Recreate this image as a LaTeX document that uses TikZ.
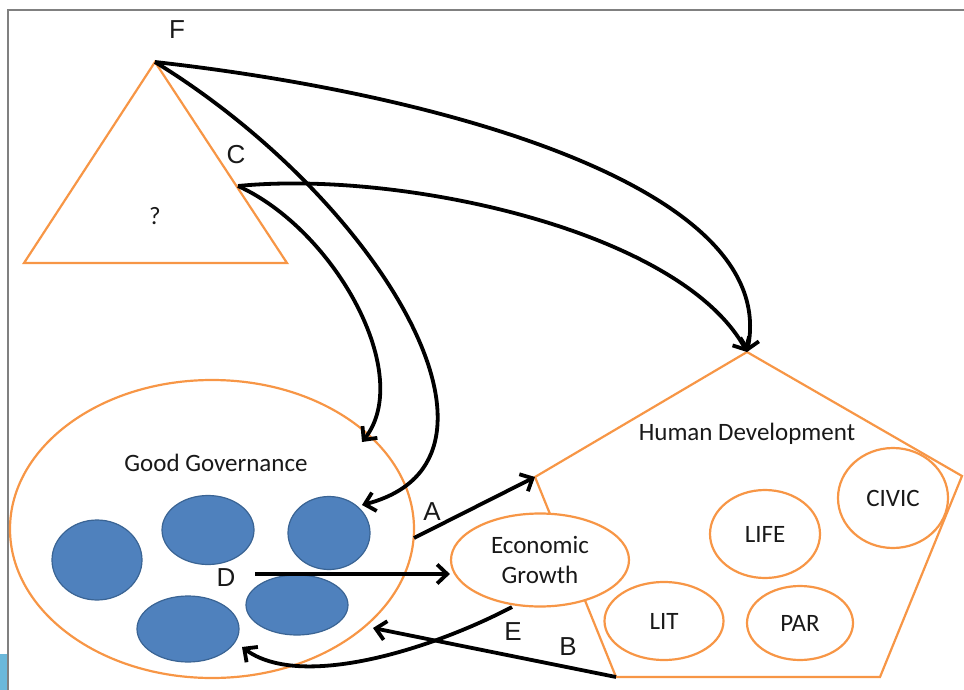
\documentclass[tikz,border=0pt]{standalone}
\usepackage{fontspec}
\usepackage{tikz}
\usetikzlibrary{arrows.meta,shapes.geometric}
\setmainfont{Carlito}
\newfontfamily\labelfont{Liberation Sans}
\definecolor{shapeorange}{RGB}{247,150,70}
\definecolor{blobblue}{RGB}{79,129,189}
\definecolor{blobedge}{RGB}{58,100,148}
\definecolor{framegray}{RGB}{128,128,128}
\definecolor{tabblue}{RGB}{107,184,218}
\definecolor{textgray}{RGB}{25,25,25}

\begin{document}
\begin{tikzpicture}[x=1pt,y=1pt,yscale=-1,xscale=1,
    orangeshape/.style={draw=shapeorange,line width=2.2pt,line join=miter},
    orangeoval/.style={ellipse,draw=shapeorange,line width=2.2pt,inner sep=0pt,font=\fontsize{25}{30}\selectfont,text=textgray,align=center},
    blob/.style={ellipse,draw=blobedge,line width=1.2pt,fill=blobblue,inner sep=0pt},
    conn/.style={draw=black,line width=3.8pt,-{Straight Barb[length=10pt,width=19pt,line width=3.8pt]}},
    letter/.style={inner sep=0.75pt,font=\labelfont\fontsize{26}{30}\selectfont,text=textgray},
    caption/.style={inner sep=0.75pt,font=\fontsize{25}{30}\selectfont,text=textgray}]
    %set diagram left start at 0, and has height of 690
    \useasboundingbox (0,0) rectangle (964,690);

    %Shape: Frame
    \draw [framegray,line width=1.5pt] (8,690) -- (8,10) -- (964,10) ;
    \fill [tabblue] (0,654) rectangle (7,690) ;

    %Shape: Triangle
    \coordinate (tapex) at (155,62) ;
    \coordinate (tleft) at (24,263) ;
    \coordinate (tright) at (287,263) ;
    \draw [orangeshape] (tapex) -- (tright) -- (tleft) -- cycle ;
    \coordinate (cpt) at (238,186) ;

    %Shape: Pentagon
    \coordinate (hdtop) at (747,352) ;
    \coordinate (hdright) at (962,476) ;
    \coordinate (hdbr) at (880,677) ;
    \coordinate (hdbl) at (616,677) ;
    \coordinate (hdleft) at (535,477) ;
    \draw [orangeshape] (hdtop) -- (hdright) -- (hdbr) -- (hdbl) -- (hdleft) -- cycle ;

    %Shape: Ellipse
    \node [orangeoval,minimum width=404pt,minimum height=298pt] (gg) at (212,529) {} ;
    %Shape: Ellipse
    \node [blob,minimum width=90pt,minimum height=80pt] (b1) at (97,560) {} ;
    \node [blob,minimum width=92pt,minimum height=69pt] (b2) at (208,530) {} ;
    \node [blob,minimum width=82pt,minimum height=73pt] (b3) at (329,533) {} ;
    \node [blob,minimum width=102pt,minimum height=66pt] (b4) at (188,629) {} ;
    \node [blob,minimum width=102pt,minimum height=60pt] (b5) at (297,605) {} ;

    %Shape: Ellipse
    \node [orangeoval,fill=white,minimum width=178pt,minimum height=93pt] (eg) at (540,560) {Economic\\Growth} ;
    \node [orangeoval,minimum width=110pt,minimum height=88pt] (life) at (765,534) {LIFE} ;
    \node [orangeoval,minimum width=110pt,minimum height=100pt] (civic) at (893,498) {CIVIC} ;
    \node [orangeoval,minimum width=119pt,minimum height=78pt] (lit) at (664,621) {LIT} ;
    \node [orangeoval,minimum width=106pt,minimum height=74pt] (par) at (800,623) {PAR} ;

    % Text Node
    \node [caption] (ggtext) at (216,463) {Good Governance} ;
    % Text Node
    \node [caption] (hdtext) at (747,434) {Human Development} ;
    % Text Node
    \node [caption] (qmark) at (155,216) {?} ;

    % Text Node
    \node [letter] (lf) at (177,30) {F} ;
    \node [letter] (lc) at (236,155) {C} ;
    \node [letter] (la) at (432,512) {A} ;
    \node [letter] (ld) at (226,578) {D} ;
    \node [letter] (le) at (513,632) {E} ;
    \node [letter] (lb) at (568,647) {B} ;

    %Connectors
    \coordinate (astart) at (414,538) ;
    \coordinate (dstart) at (255,574) ;
    \coordinate (estart) at (512,607) ;
    \coordinate (etip) at (242,647) ;
    \coordinate (btip) at (373,628) ;
    \coordinate (ggtip) at (362,442) ;
    \coordinate (b3tip) at (362,505) ;
    \draw [conn] (tapex) .. controls (450,95) and (780,190) .. (hdtop) ;
    \draw [conn] (tapex) .. controls (380,200) and (535,460) .. (b3tip) ;
    \draw [conn] (cpt) .. controls (400,170) and (680,230) .. (hdtop) ;
    \draw [conn] (cpt) .. controls (335,230) and (415,375) .. (ggtip) ;
    \draw [conn] (astart) -- (hdleft) ;
    \draw [conn] (dstart) -- (dstart -| eg.west) ;
    \draw [conn] (hdbl) -- (btip) ;
    \draw [conn] (estart) .. controls (430,650) and (300,690) .. (etip) ;

\end{tikzpicture}
\end{document}
